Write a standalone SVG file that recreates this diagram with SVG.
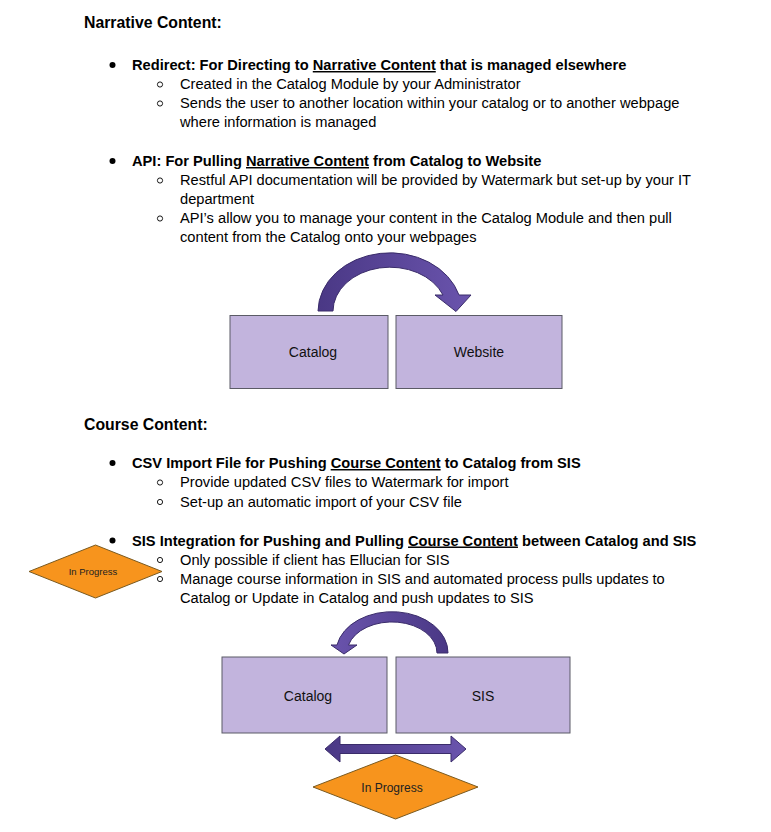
<svg xmlns="http://www.w3.org/2000/svg" width="771" height="832" viewBox="0 0 771 832">
<defs>
<style>
.t{font-family:"Liberation Sans",Arial,sans-serif;font-size:14.67px;fill:#000}
.b{font-weight:bold}
.h{font-family:"Liberation Sans",Arial,sans-serif;font-size:15.8px;font-weight:bold;fill:#000}
.box{fill:#c2b4dd;stroke:#5b5b66;stroke-width:1}
.lbl{font-family:"Liberation Sans",Arial,sans-serif;font-size:14px;fill:#111;text-anchor:middle}
.dia{fill:#f7941d;stroke:#7a5a20;stroke-width:1}
.dl{font-family:"Liberation Sans",Arial,sans-serif;fill:#222;text-anchor:middle}
.arr{fill:url(#pg);stroke:#3a2c6a;stroke-width:1}
.bul{fill:#000}
.hb{fill:none;stroke:#000;stroke-width:0.9}
</style>
<linearGradient id="pg" x1="0" y1="0" x2="1" y2="0">
<stop offset="0" stop-color="#4a3885"/>
<stop offset="1" stop-color="#6a54ad"/>
</linearGradient>
<linearGradient id="pg2" x1="1" y1="0" x2="0" y2="0">
<stop offset="0" stop-color="#4a3885"/>
<stop offset="1" stop-color="#6a54ad"/>
</linearGradient>
</defs>
<rect width="771" height="832" fill="#fff"/>

<g id="text">
<text class="h" x="84" y="28">Narrative Content:</text>
<circle class="bul" cx="112.5" cy="65" r="3"/>
<text class="t b" x="132" y="70">Redirect: For Directing to <tspan text-decoration="underline">Narrative Content</tspan> that is managed elsewhere</text>
<circle class="hb" cx="160" cy="84.5" r="2.6"/>
<text class="t" x="180" y="89">Created in the Catalog Module by your Administrator</text>
<circle class="hb" cx="160" cy="103.5" r="2.6"/>
<text class="t" x="180" y="108">Sends the user to another location within your catalog or to another webpage</text>
<text class="t" x="180" y="127">where information is managed</text>

<circle class="bul" cx="112.5" cy="161" r="3"/>
<text class="t b" x="132" y="166">API: For Pulling <tspan text-decoration="underline">Narrative Content</tspan> from Catalog to Website</text>
<circle class="hb" cx="160" cy="180.5" r="2.6"/>
<text class="t" x="180" y="185">Restful API documentation will be provided by Watermark but set-up by your IT</text>
<text class="t" x="180" y="204">department</text>
<circle class="hb" cx="160" cy="218.5" r="2.6"/>
<text class="t" x="180" y="223">API’s allow you to manage your content in the Catalog Module and then pull</text>
<text class="t" x="180" y="242">content from the Catalog onto your webpages</text>

<text class="h" x="84" y="429.5">Course Content:</text>
<circle class="bul" cx="112.5" cy="463" r="3"/>
<text class="t b" x="132" y="468">CSV Import File for Pushing <tspan text-decoration="underline">Course Content</tspan> to Catalog from SIS</text>
<circle class="hb" cx="160" cy="482.5" r="2.6"/>
<text class="t" x="180" y="487">Provide updated CSV files to Watermark for import</text>
<circle class="hb" cx="160" cy="502" r="2.6"/>
<text class="t" x="180" y="506.5">Set-up an automatic import of your CSV file</text>

<circle class="bul" cx="112.5" cy="540.5" r="3"/>
<text class="t b" x="132" y="545.5">SIS Integration for Pushing and Pulling <tspan text-decoration="underline">Course Content</tspan> between Catalog and SIS</text>
<circle class="hb" cx="160" cy="560" r="2.6"/>
<text class="t" x="180" y="564.5">Only possible if client has Ellucian for SIS</text>
<circle class="hb" cx="160" cy="579" r="2.6"/>
<text class="t" x="180" y="583.5">Manage course information in SIS and automated process pulls updates to</text>
<text class="t" x="180" y="602.5">Catalog or Update in Catalog and push updates to SIS</text>
</g>

<g id="node-catalog-top">
<rect class="box" x="230" y="315.5" width="158" height="73"/>
<text class="lbl" x="313" y="357">Catalog</text>
</g>
<g id="node-website">
<rect class="box" x="396" y="315.5" width="166" height="73"/>
<text class="lbl" x="479" y="357">Website</text>
</g>
<g id="node-catalog-bottom">
<rect class="box" x="222" y="657" width="165" height="76"/>
<text class="lbl" x="308" y="701">Catalog</text>
</g>
<g id="node-sis">
<rect class="box" x="396" y="657" width="174" height="76"/>
<text class="lbl" x="483" y="701">SIS</text>
</g>

<g id="connectors">
<path class="arr" d="M318 311 A72 59 0 0 1 459 295 L471 295 L456 311.5 L435 295 L443 295 A57 44 0 0 0 333 311 Z"/>
<path class="arr" style="fill:url(#pg2)" d="M448 653 A56 41 0 0 0 337 645 L331 645 L344 654 L357 645 L348.5 645 A45 31 0 0 1 437 653 Z"/>
<path class="arr" d="M325 749 L340 736 L340 744.5 L451 744.5 L451 736 L466 749 L451 762 L451 753.5 L340 753.5 L340 762 Z"/>
</g>

<g id="node-inprogress-left">
<polygon class="dia" points="29,571.5 95.5,545 162,571.5 95.5,598"/>
<text class="dl" x="93" y="575" font-size="9.5">In Progress</text>
</g>
<g id="node-inprogress-bottom">
<polygon class="dia" points="313,787 395.5,755 478,787 395.5,819"/>
<text class="dl" x="392" y="791.5" font-size="12">In Progress</text>
</g>
</svg>
